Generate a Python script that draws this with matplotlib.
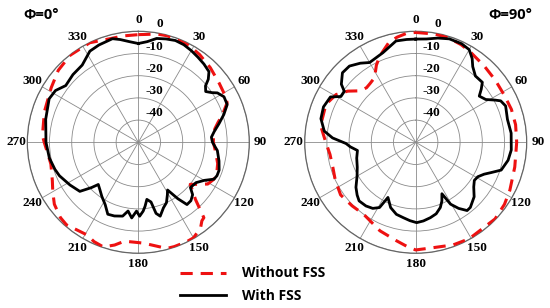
import numpy as np
import matplotlib
matplotlib.use('Agg')
import matplotlib.pyplot as plt

# angle (deg, clockwise from top) / gain (dB)
ang0_fss = [0, 5, 10, 15, 20, 25, 30, 35, 40, 45, 48, 50, 53, 56, 58, 62, 67, 72, 77, 82, 86, 90,
            96, 103, 109, 113, 116, 120, 125, 131, 134, 138, 142, 145, 148.5, 151, 155, 159, 163.5,
            166, 168, 171.5, 174, 176, 179, 181.5, 185, 188.5, 192, 198, 203, 208, 214, 219, 223.5,
            226, 230, 238, 247, 252, 260, 270, 284, 296, 302, 308, 316, 324, 332, 338, 346, 350, 355]
db0_fss = [-5.5, -4.5, -2.5, -1.8, -1.2, -1.5, -2.3, -3.2, -4.0, -5.0, -7.6, -10.5, -12.0, -10.0, -8.0,
           -6.3, -6.5, -9.5, -12.7, -15.5, -17.0, -16.6, -14.2, -12.7, -11.5, -11.5, -12.1, -15.7, -18.3,
           -18.9, -16.0, -14.6, -14.4, -19.0, -24.8, -23.0, -20.0, -18.4, -15.3, -17.0, -22.5, -24.0,
           -21.0, -18.9, -16.7, -19.0, -15.8, -18.7, -16.0, -15.1, -14.8, -18.2, -20.6, -22.5, -23.8,
           -20.6, -15.6, -13.7, -11.4, -10.5, -9.3, -8.4, -7.0, -5.3, -6.0, -8.5, -7.6, -7.0, -3.5,
           -2.7, -1.9, -3.0, -4.5]

ang0_nofss = [0, 10, 15, 20, 28, 35, 44, 54, 62, 66, 72, 76, 80, 85, 90, 98, 105, 110, 116, 121, 125,
              129, 132, 135, 139, 141, 144, 150, 154, 161, 165, 170, 177, 183, 188, 193, 198.5, 204,
              209, 215, 221, 226, 233.6, 240, 246, 256, 262, 270, 274, 288, 302, 312, 322, 334, 343, 352]
db0_nofss = [-1.5, -0.5, -0.3, -0.5, -0.8, -1.8, -3.3, -4.9, -5.6, -6.2, -10.2, -13.0, -15.0, -16.0,
             -16.2, -14.7, -13.0, -12.3, -12.1, -13.5, -17.0, -19.9, -17.0, -13.6, -5.0, -4.5, -2.3,
             -0.3, -0.2, -0.3, -0.5, -2.5, -4.5, -5.0, -5.0, -2.5, -0.3, -1.0, -2.3, -1.8, -0.7, -1.2,
             -3.0, -5.5, -7.6, -9.4, -9.0, -7.6, -6.7, -5.5, -3.7, -1.5, -0.2, -0.1, -1.5, -1.6]

ang90_fss = [0, 6, 12, 18, 25, 30, 34, 37, 42, 48, 51, 54, 58.6, 62, 64, 68, 76, 84.5, 94.6, 101, 108,
             112, 115, 119, 123, 127.6, 133, 140, 143, 147, 150.6, 153, 156, 159.3, 164, 169, 174.4,
             179.3, 184.2, 189.4, 195, 201, 206.7, 209, 213, 218, 224, 228, 233, 240, 247, 255, 262,
             266, 269, 273, 277, 284, 291, 298, 301.5, 305.5, 308, 313.5, 319, 325, 330, 340, 349, 355]
db90_fss = [-3.5, -3.2, -2.0, -1.0, -1.0, -1.8, -4.5, -7.3, -9.8, -9.6, -12.0, -14.6, -13.0, -9.5, -7.4,
            -6.3, -7.4, -6.8, -6.8, -7.6, -9.5, -13.5, -16.0, -18.0, -18.5, -17.0, -14.0, -11.7, -11.5,
            -14.5, -18.0, -24.0, -21.0, -18.6, -16.5, -15.4, -14.4, -13.8, -14.6, -15.6, -16.4, -18.5,
            -22.2, -16.4, -14.5, -13.6, -13.3, -14.5, -16.3, -19.5, -21.4, -22.5, -23.5, -20.5, -18.6,
            -12.5, -8.5, -6.0, -5.5, -6.5, -10.5, -10.5, -7.5, -4.5, -4.5, -6.5, -8.5, -7.0, -3.5, -3.5]

ang90_nofss = [0, 10, 17, 25, 31, 42, 52, 62, 71, 80, 90, 104, 117, 125, 134, 151, 160, 172, 180, 185,
               191, 202, 216, 225, 235, 245, 253, 262, 270, 280, 293, 301, 307, 313, 318, 322, 327.5,
               333, 337.4, 345, 350, 355]
db90_nofss = [-0.5, -0.5, -0.6, -1.5, -2.4, -3.8, -4.5, -4.8, -4.4, -4.3, -4.5, -4.0, -2.4, -1.2, -0.3,
              -0.3, -0.8, -1.9, -1.5, -3.0, -4.8, -7.0, -10.0, -9.5, -8.7, -10.0, -11.0, -11.0, -9.5,
              -6.5, -6.1, -8.2, -11.7, -16.0, -16.9, -16.5, -15.5, -11.0, -7.9, -3.4, -1.9, -0.8]

titles = ['Φ=0°', 'Φ=90°']
rticks = [0, -10, -20, -30, -40]
angle_labels = ['0', '30', '60', '90', '120', '150', '180', '210', '240', '270', '300', '330']


def closed(a, d):
    a = list(a) + [a[0] + 360]
    d = list(d) + [d[0]]
    return np.radians(a), np.array(d)


fig = plt.figure(figsize=(5.5, 3.08), dpi=100)
serif = dict(family='Liberation Serif', fontweight='bold', fontsize=9.5)
sans = ['Open Sans', 'DejaVu Sans']

panels = [(0.0497, ang0_fss, db0_fss, ang0_nofss, db0_nofss),
          (0.5540, ang90_fss, db90_fss, ang90_nofss, db90_nofss)]
lines = []
for left, a1, d1, a2, d2 in panels:
    ax = fig.add_axes([left, 0.1776, 0.4036, 0.7208], projection='polar')
    ax.set_theta_zero_location('N')
    ax.set_theta_direction(-1)
    ax.set_rlim(-50, 0)
    ax.set_yticks([-40, -30, -20, -10, 0])
    ax.set_yticklabels([])
    ax.set_xticks(np.radians(np.arange(0, 360, 30)))
    ax.set_xticklabels(angle_labels, **serif)
    ax.set_xticks(np.radians(np.arange(0, 360, 5)), minor=True)
    ax.tick_params(axis='x', which='major', pad=1, length=0)
    ax.tick_params(axis='x', which='minor', direction='in', length=3.5, width=0.6, color='#666666')
    ax.grid(True, color='#8a8a8a', lw=0.6)
    ax.spines['polar'].set_color('#666666')
    ax.spines['polar'].set_linewidth(0.9)

    th, r = closed(a2, d2)
    l1, = ax.plot(th, r, color='#ee1111', lw=2.2, dashes=(4, 2.6), label='Without FSS', zorder=3)
    th, r = closed(a1, d1)
    l2, = ax.plot(th, r, color='black', lw=2.0, label='With FSS', zorder=4)
    lines = [l1, l2]

    for v in rticks:
        frac = 0.5 * (v + 50) / 50
        ax.text(0.5 + 25 / 222, 0.5 + frac + 7 / 222, str(v), transform=ax.transAxes,
                ha='right', va='center', **serif)

fig.text(23 / 550, 1 - 15 / 308, titles[0], family=sans, fontweight='bold', fontsize=10.5, va='center')
fig.text(488 / 550, 1 - 15 / 308, titles[1], family=sans, fontweight='bold', fontsize=10.5, va='center')

fig.legend(handles=lines, loc='upper left', bbox_to_anchor=(0.327, 0.135), frameon=False,
           prop={'family': sans, 'weight': 'bold', 'size': 10}, handlelength=3.3,
           handletextpad=1.2, labelspacing=0.6, borderpad=0, borderaxespad=0)

fig.savefig('out.png', dpi=100)
